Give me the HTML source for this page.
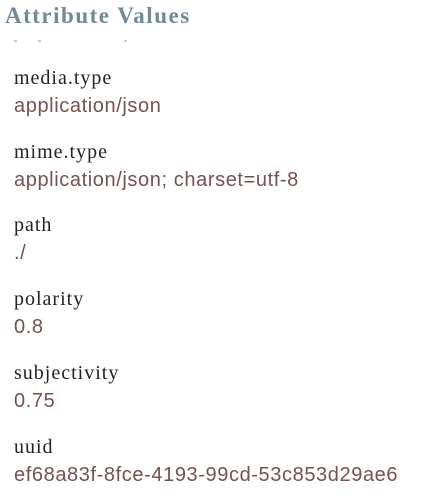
<!DOCTYPE html>
<html><head><meta charset="utf-8"><style>
html,body{margin:0;padding:0;background:#fff;width:432px;height:497px;overflow:hidden;position:relative}
.t{position:absolute;left:5px;top:1px;font:bold 23px "Liberation Serif",serif;letter-spacing:1.5px;color:#6f8b98;line-height:30px;white-space:nowrap}
.k,.v{position:absolute;left:14px;white-space:nowrap;line-height:1}
.k{font:20px "Liberation Serif",serif;letter-spacing:1px;color:#222}
.v{font:20px "Liberation Sans",sans-serif;letter-spacing:0.6px;color:#7a4f50}
.d{position:absolute;top:40px;height:2px;background:#ccc}
</style></head><body>
<div class="t">Attribute Values</div>
<div class="d" style="left:14px;width:3px"></div>
<div class="d" style="left:38px;width:3px"></div>
<div class="d" style="left:124px;width:3px"></div>
<div class="k" style="top:67px">media.type</div>
<div class="v" style="top:95px">application/json</div>
<div class="k" style="top:141px">mime.type</div>
<div class="v" style="top:169px">application/json; charset=utf-8</div>
<div class="k" style="top:214px">path</div>
<div class="v" style="top:242px">./</div>
<div class="k" style="top:288px">polarity</div>
<div class="v" style="top:316px">0.8</div>
<div class="k" style="top:362px">subjectivity</div>
<div class="v" style="top:390px">0.75</div>
<div class="k" style="top:436px">uuid</div>
<div class="v" style="top:464px">ef68a83f-8fce-4193-99cd-53c853d29ae6</div>
</body></html>
